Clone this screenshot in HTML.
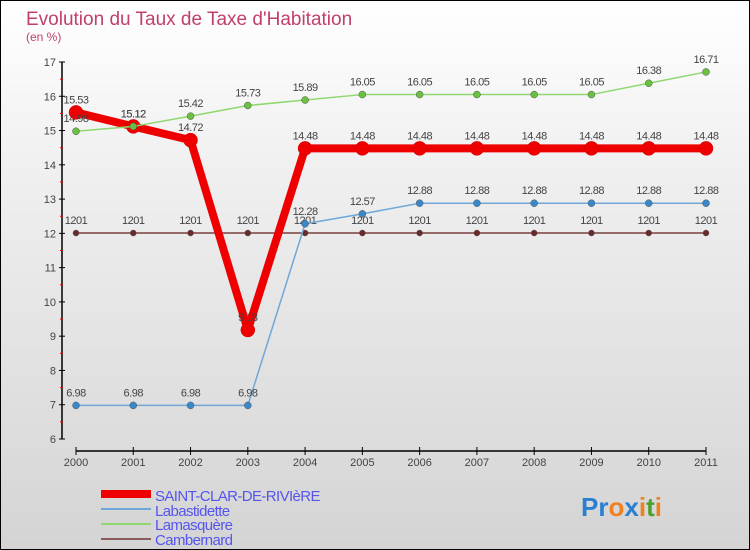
<!DOCTYPE html>
<html><head><meta charset="utf-8"><style>
body{margin:0}
#c{width:748px;height:548px;border:1px solid #000;background:linear-gradient(#ffffff,#f0f0f0 30%,#d4d4d4);position:relative;overflow:hidden;font-family:"Liberation Sans",sans-serif}
</style></head><body>
<div id="c">
<svg id="s" width="748" height="548" xmlns="http://www.w3.org/2000/svg">
<text x="25" y="24" font-size="19" fill="#c0406a">Evolution du Taux de Taxe d'Habitation</text>
<text x="25" y="40" font-size="12" fill="#c0406a">(en %)</text>
<g id="g"></g>
<text x="154" y="500" font-size="15" fill="#5555ee" letter-spacing="-0.6">SAINT-CLAR-DE-RIVIèRE</text>
<text x="154" y="515" font-size="15" fill="#5555ee" letter-spacing="-0.6">Labastidette</text>
<text x="154" y="529" font-size="15" fill="#5555ee" letter-spacing="-0.6">Lamasquère</text>
<text x="154" y="544" font-size="15" fill="#5555ee" letter-spacing="-0.6">Cambernard</text>
<rect x="100" y="489" width="50" height="8" fill="#e00"/>
<rect x="100" y="507" width="50" height="2" fill="#6fa8d8"/>
<rect x="100" y="522" width="50" height="2" fill="#8fd86f"/>
<rect x="100" y="537" width="50" height="2" fill="#8b5a5a"/>
<text x="580" y="515" font-size="26" font-weight="bold"><tspan fill="#2a7fd0">Pr</tspan><tspan fill="#f08020">o</tspan><tspan fill="#2a7fd0">x</tspan><tspan fill="#f08020">i</tspan><tspan fill="#4aa030">t</tspan><tspan fill="#f08020">i</tspan></text>
</svg></div>
<script>
const years=[2000,2001,2002,2003,2004,2005,2006,2007,2008,2009,2010,2011];
const yTicks=[6,7,8,9,10,11,12,13,14,15,16,17];
const saintClar=[15.53,15.12,14.72,9.18,14.48,14.48,14.48,14.48,14.48,14.48,14.48,14.48];
const labastidette=[6.98,6.98,6.98,6.98,12.28,12.57,12.88,12.88,12.88,12.88,12.88,12.88];
const lamasquere=[14.98,15.12,15.42,15.73,15.89,16.05,16.05,16.05,16.05,16.05,16.38,16.71];
const cambernard=[12.01,12.01,12.01,12.01,12.01,12.01,12.01,12.01,12.01,12.01,12.01,12.01];
const NS="http://www.w3.org/2000/svg",g=document.getElementById('g');
const X=i=>75+i*(630/(years.length-1));
const Y=v=>438-(v-6)*(377/11);
function el(t,a,p){const e=document.createElementNS(NS,t);for(const k in a)e.setAttribute(k,a[k]);(p||g).appendChild(e);return e;}
const fmt=v=>String(v).replace(/\.?0+$/,'').replace('12.01','1201');
let ax=el('line',{x1:61,y1:61,x2:61,y2:438,stroke:'#000','stroke-width':1.5});

let xa=el('line',{x1:75,y1:450,x2:705,y2:450,stroke:'#000','stroke-width':1.5});

yTicks.forEach(t=>{
 el('line',{x1:58,y1:Y(t),x2:64,y2:Y(t),stroke:'#000'});
 if(t<17)el('line',{x1:59,y1:Y(t+0.5),x2:62,y2:Y(t+0.5),stroke:'#e00'});
 const tx=el('text',{x:55,y:Y(t)+4,'font-size':11,fill:'#444','text-anchor':'end'});tx.textContent=t;
 
});
years.forEach((yr,i)=>{
 el('line',{x1:X(i),y1:446,x2:X(i),y2:454,stroke:'#000'});
 const tx=el('text',{x:X(i),y:465,'font-size':11,fill:'#444','text-anchor':'middle'});tx.textContent=yr;
 
});
function series(data,color,w,r,dot,name){
 const pl=el('polyline',{points:data.map((v,i)=>X(i)+','+Y(v)).join(' '),fill:'none',stroke:color,'stroke-width':w,'stroke-linejoin':'round'});
 
 data.forEach((v,i)=>{
  const c=el('circle',{cx:X(i),cy:Y(v),r:r,fill:dot,stroke:color==='#e00'?'#c00':'#555','stroke-width':0.5});
  
  const t=el('text',{x:X(i),y:Y(v)-9,'font-size':11,fill:'#444','text-anchor':'middle','letter-spacing':'-0.5'});t.textContent=fmt(v);
  
 });
}
series(cambernard,'#7a4040',1.5,3,'#6a2a2a','cambernard');
series(labastidette,'#6fa8d8',1.5,3.5,'#3a88c8','labastidette');
series(saintClar,'#e00',8,7,'#e00','saint-clar');
series(lamasquere,'#8fd86f',1.5,3.5,'#6ac040','lamasquere');
</script>
</body></html>
